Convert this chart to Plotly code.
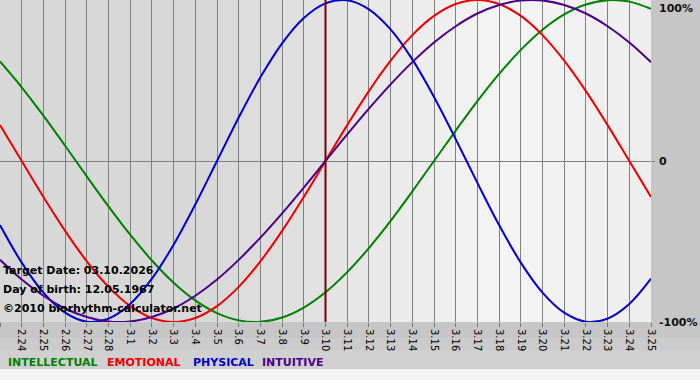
import plotly.graph_objects as go

# ---- data ----
dates = ["2.23", "2.24", "2.25", "2.26", "2.27", "2.28",
         "3.1", "3.2", "3.3", "3.4", "3.5", "3.6", "3.7", "3.8", "3.9", "3.10",
         "3.11", "3.12", "3.13", "3.14", "3.15", "3.16", "3.17", "3.18", "3.19",
         "3.20", "3.21", "3.22", "3.23", "3.24", "3.25"]

intellectual = [0.618, 0.458, 0.282, 0.095, -0.095, -0.282, -0.458, -0.618, -0.756, -0.866,
                -0.945, -0.990, -0.999, -0.972, -0.910, -0.815, -0.690, -0.541, -0.372, -0.189,
                0.000, 0.189, 0.372, 0.541, 0.690, 0.815, 0.910, 0.972, 0.999, 0.990, 0.945]
emotional = [0.223, 0.000, -0.223, -0.434, -0.623, -0.782, -0.901, -0.975, -1.000, -0.975,
             -0.901, -0.782, -0.623, -0.434, -0.223, 0.000, 0.223, 0.434, 0.623, 0.782,
             0.901, 0.975, 1.000, 0.975, 0.901, 0.782, 0.623, 0.434, 0.223, 0.000, -0.223]
physical = [-0.398, -0.631, -0.817, -0.942, -0.998, -0.979, -0.888, -0.731, -0.520, -0.270,
            0.000, 0.270, 0.520, 0.731, 0.888, 0.979, 0.998, 0.942, 0.817, 0.631,
            0.398, 0.136, -0.136, -0.398, -0.631, -0.817, -0.942, -0.998, -0.979, -0.888, -0.731]
intuitive = [-0.614, -0.736, -0.837, -0.916, -0.969, -0.997, -0.997, -0.969, -0.916, -0.837,
             -0.736, -0.614, -0.476, -0.325, -0.165, 0.000, 0.165, 0.325, 0.476, 0.614,
             0.736, 0.837, 0.916, 0.969, 0.997, 0.997, 0.969, 0.916, 0.837, 0.736, 0.614]

series_names = ["INTELLECTUAL", "EMOTIONAL", "PHYSICAL", "INTUITIVE"]
series_values = [intellectual, emotional, physical, intuitive]
series_colors = ["#008000", "#ee0000", "#0000cc", "#4b0088"]

target_label = "3.10"
info_lines = ["Target Date: 03.10.2026", "Day of birth: 12.05.1967",
              "\u00a92010 biorhythm-calculator.net"]
y_ticks = [1, 0, -1]
y_tick_text = ["100%", "0", "-100%"]

# ---- figure ----
x = list(range(len(dates)))
W, H = 700, 380
L, R, T, B = 0, 49, 0, 58
PW, PH = W - L - R, H - T - B

fig = go.Figure()
for name, vals, col in zip(series_names, series_values, series_colors):
    fig.add_trace(go.Scatter(x=x, y=vals, mode="lines", name=name,
                             line=dict(color=col, width=2, shape="spline", smoothing=1),
                             cliponaxis=False, hoverinfo="skip"))

shapes = []
# column background shading (grey on left, light on right)
def shade(i):
    n = len(dates) - 1
    t = i / n
    if t < 0.3:
        v = 0xd8
    elif t < 0.75:
        v = int(0xd8 + (0xf5 - 0xd8) * (t - 0.3) / 0.45)
    else:
        v = int(0xf5 - (0xf5 - 0xee) * (t - 0.75) / 0.25)
    return "#%02x%02x%02x" % (v, v, v)

for i in range(len(dates) - 1):
    shapes.append(dict(type="rect", xref="x", yref="paper", x0=i, x1=i + 1, y0=0, y1=1,
                       fillcolor=shade(i), line=dict(width=0), layer="below"))

# bottom light band of the page
shapes.append(dict(type="rect", xref="paper", yref="paper", x0=-0.01, x1=1.1,
                   y0=-(350 - PH) / PH, y1=-(338 - PH) / PH,
                   fillcolor="#cbcbcb", line=dict(width=0), layer="below"))
shapes.append(dict(type="rect", xref="paper", yref="paper", x0=-0.01, x1=1.1,
                   y0=-(369 - PH) / PH, y1=-(350 - PH) / PH,
                   fillcolor="#d0d0d0", line=dict(width=0), layer="below"))
shapes.append(dict(type="rect", xref="paper", yref="paper", x0=-0.01, x1=1.1,
                   y0=-(381 - PH) / PH, y1=-(369 - PH) / PH,
                   fillcolor="#f4f4f4", line=dict(width=0), layer="below"))

# target date line
ti = dates.index(target_label)
shapes.append(dict(type="line", xref="x", yref="paper", x0=ti, x1=ti, y0=0, y1=1,
                   line=dict(color="#7a0000", width=2), layer="above"))

annotations = []
info_y = [270, 289, 308]
for txt, py in zip(info_lines, info_y):
    annotations.append(dict(text="<b>%s</b>" % txt, xref="paper", yref="paper",
                            x=0, y=1 - py / PH, xanchor="left", yanchor="middle",
                            xshift=1, showarrow=False,
                            font=dict(family="DejaVu Sans", size=11, color="#000000")))

for v, t in zip(y_ticks, y_tick_text):
    anc = "top" if v == 1 else "middle"
    ys = 0 if v == 1 else 0
    annotations.append(dict(text="<b>%s</b>" % t, xref="paper", yref="y",
                            x=1, y=v, xanchor="left", yanchor=anc, xshift=6, yshift=ys,
                            showarrow=False,
                            font=dict(family="DejaVu Sans", size=11, color="#111111")))

legend_px = [6, 105, 191, 260]
for name, col, px in zip(series_names, series_colors, legend_px):
    annotations.append(dict(text="<b>%s</b>" % name, xref="paper", yref="paper",
                            x=px / PW, y=1 - 362 / PH, xanchor="left", yanchor="middle",
                            showarrow=False,
                            font=dict(family="DejaVu Sans", size=11, color=col)))

fig.update_layout(
    width=W, height=H,
    margin=dict(l=L, r=R, t=T, b=B, pad=0, autoexpand=False),
    paper_bgcolor="#c6c6c6",
    plot_bgcolor="#e0e0e0",
    showlegend=False,
    shapes=shapes,
    annotations=annotations,
    xaxis=dict(range=[0, len(dates) - 1], tickmode="array", tickvals=x, ticktext=dates,
               tickangle=90, ticks="outside", ticklen=4, tickcolor="#777777",
               showgrid=True, gridcolor="#808080", gridwidth=1, automargin=False,
               zeroline=False, showline=False, fixedrange=True,
               tickfont=dict(family="DejaVu Sans", size=10, color="#000000")),
    yaxis=dict(range=[-1, 1], side="right", tickmode="array", tickvals=[0],
               showticklabels=False, ticks="outside", ticklen=3, tickcolor="#808080",
               showgrid=False, zeroline=True, zerolinecolor="#808080", zerolinewidth=1,
               automargin=False, showline=False, fixedrange=True),
)

fig.write_html("out.html",
               config={"displayModeBar": False, "staticPlot": True},
               post_script="document.body.style.margin='0';document.body.style.overflow='hidden';")
